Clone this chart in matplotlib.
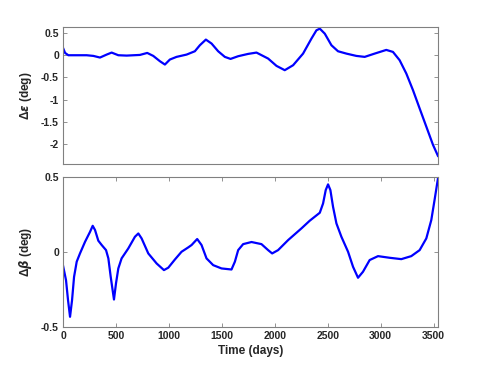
import matplotlib
matplotlib.use("Agg")
import matplotlib.pyplot as plt

# values
t_eps = [0, 19, 50, 223, 286, 349, 412, 459, 522, 601, 726, 795, 852, 915, 962, 1009, 1072,
         1167, 1245, 1292, 1349, 1403, 1465, 1528, 1582, 1654, 1748, 1827, 1937, 2016, 2094,
         2173, 2267, 2346, 2393, 2425, 2472, 2535, 2597, 2676, 2770, 2849, 2943, 3053, 3116,
         3179, 3242, 3305, 3368, 3431, 3494, 3541]
d_eps = [0.164, 0.052, 0.0, 0.0, -0.015, -0.052, 0.015, 0.06, 0.0, -0.008, 0.007, 0.052,
         -0.015, -0.135, -0.21, -0.097, -0.037, 0.015, 0.09, 0.225, 0.353, 0.263, 0.09, -0.037,
         -0.083, -0.022, 0.03, 0.06, -0.075, -0.24, -0.337, -0.225, 0.037, 0.375, 0.562, 0.6,
         0.487, 0.225, 0.09, 0.037, -0.015, -0.037, 0.037, 0.12, 0.075, -0.112, -0.412,
         -0.787, -1.2, -1.61, -2.02, -2.27]

t_beta = [0, 28, 47, 66, 85, 104, 129, 160, 208, 255, 280, 302, 333, 365, 406, 428, 450, 481,
          500, 522, 553, 616, 679, 711, 742, 805, 884, 953, 994, 1057, 1119, 1182, 1214, 1267,
          1308, 1355, 1418, 1497, 1591, 1623, 1654, 1701, 1780, 1874, 1937, 1975, 2031, 2126,
          2252, 2330, 2425, 2456, 2481, 2503, 2525, 2550, 2582, 2629, 2692, 2739, 2786, 2833,
          2896, 2975, 3085, 3195, 3289, 3368, 3431, 3478, 3509, 3541]
d_beta = [-0.091, -0.187, -0.32, -0.431, -0.32, -0.165, -0.064, -0.009, 0.069, 0.135, 0.175,
          0.147, 0.076, 0.047, 0.013, -0.042, -0.164, -0.316, -0.209, -0.109, -0.042, 0.024,
          0.102, 0.124, 0.091, -0.009, -0.076, -0.12, -0.104, -0.049, 0.002, 0.031, 0.047,
          0.087, 0.047, -0.042, -0.087, -0.109, -0.116, -0.064, 0.013, 0.053, 0.067, 0.053,
          0.013, -0.009, 0.013, 0.08, 0.158, 0.209, 0.262, 0.324, 0.413, 0.451, 0.413, 0.302,
          0.191, 0.102, 0.002, -0.098, -0.171, -0.131, -0.053, -0.027, -0.038, -0.047, -0.027,
          0.013, 0.091, 0.213, 0.347, 0.49]

x_ticks = [0, 500, 1000, 1500, 2000, 2500, 3000, 3500]
eps_ticks = [0.5, 0, -0.5, -1, -1.5, -2]
eps_labels = ["0.5", "0", "-0.5", "-1", "-1.5", "-2"]
beta_ticks = [-0.5, 0, 0.5]
beta_labels = ["-0.5", "0", "0.5"]

plt.rcParams['font.family'] = ['Liberation Sans', 'DejaVu Sans']
plt.rcParams['font.weight'] = 'bold'
plt.rcParams['axes.labelweight'] = 'bold'
plt.rcParams['font.size'] = 7.5
plt.rcParams['mathtext.fontset'] = 'dejavusans'

grey = '#808080'
txt = '#262626'

fig = plt.figure(figsize=(4.85, 3.68), dpi=100)
ax1 = fig.add_axes([0.130, 0.554, 0.773, 0.373])
ax2 = fig.add_axes([0.130, 0.111, 0.773, 0.408])


def style(ax):
    for s in ax.spines.values():
        s.set_color(grey)
        s.set_linewidth(0.8)
    ax.tick_params(direction='in', length=3, width=0.6, color=grey, labelcolor=txt,
                   right=True, top=True, pad=3)


ax1.plot(t_eps, d_eps, color='blue', lw=1.6)
ax1.set_xlim(0, 3541)
ax1.set_ylim(-2.456, 0.64)
ax1.set_xticks([])
ax1.set_yticks(eps_ticks)
ax1.set_yticklabels(eps_labels)
ax1.set_ylabel(r'Δ$\epsilon$ (deg)', color=txt, fontsize=8.5, labelpad=5)
style(ax1)

ax2.plot(t_beta, d_beta, color='blue', lw=1.6)
ax2.set_xlim(0, 3541)
ax2.set_ylim(-0.5, 0.5)
ax2.set_xticks(x_ticks)
ax2.set_yticks(beta_ticks)
ax2.set_yticklabels(beta_labels)
ax2.set_ylabel(r'Δ$\beta$ (deg)', color=txt, fontsize=8.5, labelpad=5)
ax2.set_xlabel('Time (days)', color=txt, fontsize=8.5, labelpad=3)
style(ax2)

fig.savefig('out.png', dpi=100)
